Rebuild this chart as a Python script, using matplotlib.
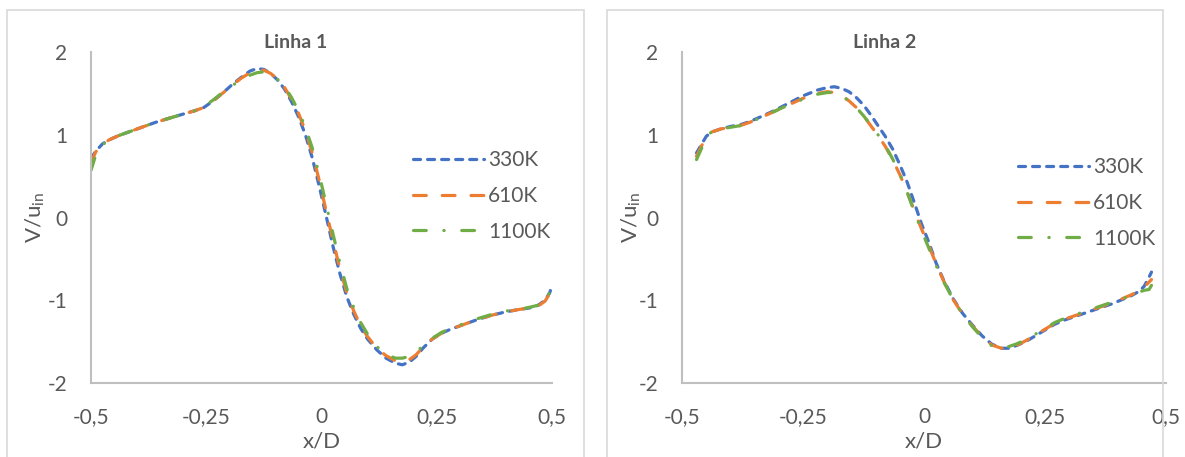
import matplotlib
matplotlib.use("Agg")
import matplotlib.pyplot as plt
from matplotlib.patches import Rectangle

plt.rcParams['font.family'] = ['Lato', 'DejaVu Sans']
plt.rcParams['mathtext.fontset'] = 'custom'
plt.rcParams['mathtext.rm'] = 'Lato'
plt.rcParams['mathtext.it'] = 'Lato:italic'
plt.rcParams['axes.unicode_minus'] = False

# Linha 1: V/u_in profile along x/D
x1 = [-0.5, -0.49, -0.475, -0.46, -0.44, -0.415, -0.39, -0.36, -0.33, -0.30,
      -0.275, -0.255, -0.235, -0.215, -0.195, -0.175, -0.155, -0.14, -0.125, -0.11,
      -0.095, -0.08, -0.065, -0.05, -0.035, -0.02, -0.005, 0.01, 0.025, 0.04,
      0.055, 0.07, 0.085, 0.1, 0.12, 0.14, 0.16, 0.175, 0.19, 0.205,
      0.22, 0.24, 0.26, 0.28, 0.31, 0.34, 0.37, 0.40, 0.43, 0.455,
      0.47, 0.485, 0.495, 0.5]
l1_330 = [0.71, 0.80, 0.89, 0.94, 0.99, 1.04, 1.09, 1.15, 1.20, 1.25,
          1.29, 1.33, 1.41, 1.50, 1.60, 1.69, 1.77, 1.80, 1.79, 1.74,
          1.66, 1.55, 1.40, 1.22, 1.00, 0.72, 0.38, 0.02, -0.35, -0.68,
          -0.96, -1.17, -1.34, -1.47, -1.60, -1.70, -1.76, -1.78, -1.75, -1.68,
          -1.58, -1.47, -1.40, -1.35, -1.29, -1.23, -1.18, -1.14, -1.11, -1.09,
          -1.06, -1.00, -0.91, -0.82]
l1_610 = [0.66, 0.79, 0.89, 0.94, 0.99, 1.04, 1.09, 1.15, 1.20, 1.25,
          1.29, 1.33, 1.41, 1.50, 1.59, 1.68, 1.75, 1.78, 1.78, 1.74,
          1.67, 1.57, 1.43, 1.26, 1.05, 0.78, 0.45, 0.08, -0.28, -0.62,
          -0.91, -1.13, -1.31, -1.44, -1.58, -1.67, -1.73, -1.74, -1.72, -1.66,
          -1.57, -1.47, -1.40, -1.35, -1.29, -1.23, -1.18, -1.14, -1.11, -1.09,
          -1.07, -1.01, -0.92, -0.80]
l1_1100 = [0.57, 0.75, 0.88, 0.94, 0.99, 1.04, 1.09, 1.15, 1.20, 1.25,
           1.29, 1.34, 1.42, 1.51, 1.59, 1.66, 1.72, 1.75, 1.76, 1.73,
           1.67, 1.58, 1.45, 1.29, 1.09, 0.84, 0.52, 0.16, -0.20, -0.55,
           -0.86, -1.09, -1.27, -1.41, -1.56, -1.65, -1.70, -1.70, -1.68, -1.63,
           -1.55, -1.46, -1.39, -1.34, -1.28, -1.22, -1.17, -1.13, -1.11, -1.08,
           -1.06, -1.03, -0.90, -0.73]

# Linha 2
x2 = [-0.47, -0.46, -0.45, -0.44, -0.42, -0.40, -0.38, -0.36, -0.34, -0.31,
      -0.28, -0.25, -0.22, -0.2, -0.185, -0.17, -0.155, -0.14, -0.125, -0.11,
      -0.095, -0.08, -0.065, -0.05, -0.035, -0.02, -0.005, 0.01, 0.025, 0.04,
      0.06, 0.08, 0.1, 0.12, 0.14, 0.16, 0.175, 0.19, 0.21, 0.23,
      0.25, 0.27, 0.29, 0.31, 0.33, 0.35, 0.37, 0.39, 0.41, 0.43,
      0.445, 0.455, 0.465, 0.47]
l2_330 = [0.78, 0.88, 0.98, 1.03, 1.07, 1.10, 1.12, 1.16, 1.21, 1.29,
          1.38, 1.47, 1.54, 1.57, 1.58, 1.56, 1.52, 1.45, 1.36, 1.24,
          1.11, 0.98, 0.83, 0.64, 0.43, 0.18, -0.08, -0.30, -0.55, -0.75,
          -0.98, -1.16, -1.30, -1.43, -1.53, -1.58, -1.58, -1.55, -1.50, -1.43,
          -1.36, -1.29, -1.24, -1.20, -1.16, -1.12, -1.08, -1.04, -0.99, -0.94,
          -0.89, -0.83, -0.72, -0.66]
l2_610 = [0.74, 0.86, 0.97, 1.03, 1.07, 1.09, 1.11, 1.15, 1.20, 1.28,
          1.36, 1.44, 1.50, 1.52, 1.51, 1.47, 1.41, 1.33, 1.23, 1.11,
          0.99, 0.86, 0.70, 0.52, 0.31, 0.08, -0.14, -0.34, -0.56, -0.76,
          -0.99, -1.17, -1.31, -1.44, -1.54, -1.58, -1.58, -1.55, -1.49, -1.42,
          -1.35, -1.28, -1.23, -1.19, -1.15, -1.11, -1.07, -1.03, -0.98, -0.93,
          -0.88, -0.84, -0.78, -0.75]
l2_1100 = [0.70, 0.83, 0.96, 1.03, 1.07, 1.09, 1.11, 1.15, 1.20, 1.28,
           1.36, 1.43, 1.49, 1.51, 1.51, 1.47, 1.41, 1.33, 1.23, 1.12,
           1.00, 0.87, 0.71, 0.53, 0.31, 0.07, -0.16, -0.37, -0.58, -0.77,
           -0.99, -1.17, -1.32, -1.45, -1.55, -1.57, -1.56, -1.53, -1.48, -1.41,
           -1.34, -1.27, -1.22, -1.18, -1.14, -1.10, -1.06, -1.02, -0.98, -0.94,
           -0.90, -0.88, -0.87, -0.82]

labels = ['330K', '610K', '1100K']
colors = ['#4472C4', '#ED7D31', '#70AD47']
styles = [(0, (2.2, 2.2)), (0, (4, 5)), (0, (4, 5.5, 0.1, 5.5))]
xticks = [-0.5, -0.25, 0, 0.25, 0.5]
xticklabels = ['-0,5', '-0,25', '0', '0,25', '0,5']
yticks = [-2, -1, 0, 1, 2]

W, H = 1185, 457
fig = plt.figure(figsize=(W / 100, H / 100), dpi=100)
txt = '#595959'

panels = [
    dict(x=x1, ys=[l1_330, l1_610, l1_1100], title='Linha 1',
         box=(91, 552), frame=(7, 584), title_x=296, ylab_x=35, leg=(0.698, 0.565)),
    dict(x=x2, ys=[l2_330, l2_610, l2_1100], title='Linha 2',
         box=(682, 1166), frame=(607, 1163), title_x=885, ylab_x=631, leg=(0.694, 0.544)),
]

for p in panels:
    left, right = p['box']
    ax = fig.add_axes([left / W, 1 - 383 / H, (right - left) / W, (383 - 52) / H])
    for y, lab, c, ls in zip(p['ys'], labels, colors, styles):
        ax.plot(p['x'], y, color=c, lw=2.3, linestyle=ls, label=lab,
                dash_capstyle='round', solid_capstyle='round')
    ax.set_xlim(-0.5, 0.5)
    ax.set_ylim(-2, 2)
    ax.set_xticks(xticks)
    ax.set_xticklabels(xticklabels)
    ax.set_yticks(yticks)
    ax.tick_params(length=0, labelsize=15, labelcolor=txt, pad=17)
    for s in ['top', 'right']:
        ax.spines[s].set_visible(False)
    for s in ['left', 'bottom']:
        ax.spines[s].set_color('#BFBFBF')
        ax.spines[s].set_linewidth(1.5)
    ax.legend(loc='center left', bbox_to_anchor=p['leg'], frameon=False,
              fontsize=15, labelcolor=txt, handlelength=3.4, handletextpad=0.2,
              labelspacing=0.75, borderpad=0, borderaxespad=0)

    # chart area outline and texts
    fl, fr = p['frame']
    fig.add_artist(Rectangle((fl / W, -0.1), (fr - fl) / W, 1.1 - 10 / H,
                             transform=fig.transFigure, fill=False,
                             edgecolor='#D9D9D9', lw=1.2))
    fig.text(p['title_x'] / W, 1 - 42 / H, p['title'], ha='center', va='center',
             fontsize=14, fontweight='bold', color=txt)
    fig.text(p['ylab_x'] / W, 1 - 217 / H, r'V/u$_\mathrm{in}$', rotation=90,
             ha='center', va='center', fontsize=16, color=txt)
    fig.text((left + right) / 2 / W, 1 - 441 / H, 'x/D', ha='center', va='center',
             fontsize=16, color=txt)

fig.savefig('out.png', dpi=100)
